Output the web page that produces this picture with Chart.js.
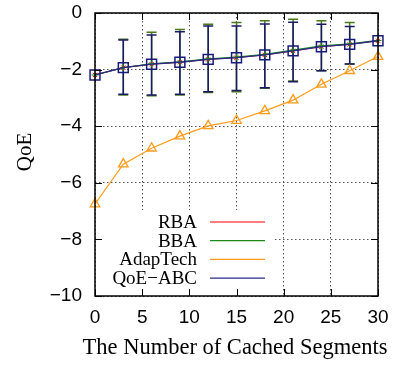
<!DOCTYPE html>
<html>
<head>
<meta charset="utf-8">
<script src="https://cdn.jsdelivr.net/npm/chart.js@4.4.0/dist/chart.umd.min.js"></script>
<style>
  html, body { margin: 0; padding: 0; background: #fff; }
  #wrap { width: 398px; height: 365px; }
</style>
</head>
<body>
<div id="wrap"><canvas id="chart" width="398" height="365"></canvas></div>
<script>
// data
const segments = [0, 3, 6, 9, 12, 15, 18, 21, 24, 27, 30];
const rba      = [-2.19, -1.93, -1.81, -1.74, -1.64, -1.58, -1.48, -1.34, -1.19, -1.11, -0.98];
const bba      = [-2.19, -1.93, -1.80, -1.73, -1.62, -1.56, -1.46, -1.31, -1.16, -1.09, -0.97];
const adaptech = [-6.75, -5.34, -4.78, -4.35, -3.99, -3.80, -3.46, -3.08, -2.52, -2.04, -1.54];
const qoeAbc   = [-2.19, -1.93, -1.81, -1.74, -1.64, -1.58, -1.48, -1.34, -1.19, -1.11, -0.98];

const bbaLow     = [null, -2.90, -2.92, -2.90, -2.81, -2.78, -2.66, -2.40, -2.04, -1.80, null];
const bbaHigh    = [null, -0.93, -0.68, -0.58, -0.40, -0.34, -0.27, -0.22, -0.27, -0.34, null];
const qoeAbcLow  = [null, -2.87, -2.90, -2.87, -2.78, -2.74, -2.64, -2.43, -2.04, -1.80, null];
const qoeAbcHigh = [null, -0.95, -0.78, -0.66, -0.46, -0.46, -0.39, -0.33, -0.40, -0.48, null];

const xTicks = [0, 5, 10, 15, 20, 25, 30];
const yTicks = [0, -2, -4, -6, -8, -10];

const legendItems = [
  { label: 'RBA', color: '#ff0000' },
  { label: 'BBA', color: '#1a8a1a' },
  { label: 'AdapTech', color: '#ff9a1a' },
  { label: 'QoE\u2212ABC', color: '#2a2a8a' }
];

const toPoints = arr => segments.map((s, i) => ({ x: s, y: arr[i] }));

function drawBars(chart, low, high, color) {
  const ctx = chart.ctx;
  const xs = chart.scales.x, ys = chart.scales.y;
  ctx.save();
  ctx.strokeStyle = color;
  ctx.lineWidth = 1.5;
  segments.forEach((s, i) => {
    if (low[i] == null) return;
    const px = xs.getPixelForValue(s);
    const y1 = ys.getPixelForValue(low[i]);
    const y2 = ys.getPixelForValue(high[i]);
    ctx.beginPath();
    ctx.moveTo(px, y1); ctx.lineTo(px, y2);
    ctx.moveTo(px - 5, y1); ctx.lineTo(px + 5, y1);
    ctx.moveTo(px - 5, y2); ctx.lineTo(px + 5, y2);
    ctx.stroke();
  });
  ctx.restore();
}

const decor = {
  id: 'decor',
  beforeDatasetsDraw(chart) {
    const ctx = chart.ctx;
    const a = chart.chartArea;
    // legend box hides the grid
    ctx.save();
    ctx.fillStyle = '#fff';
    ctx.fillRect(a.left + 1, 210, 274 - a.left, a.bottom - 210);
    ctx.restore();
    drawBars(chart, bbaLow, bbaHigh, '#4a7a1a');
    drawBars(chart, qoeAbcLow, qoeAbcHigh, '#1a1a6a');
  },
  afterDraw(chart) {
    const ctx = chart.ctx;
    const a = chart.chartArea;
    const xs = chart.scales.x, ys = chart.scales.y;
    ctx.save();
    // inner ticks
    ctx.strokeStyle = '#000';
    ctx.lineWidth = 1;
    ctx.beginPath();
    xTicks.forEach(v => {
      const px = Math.round(xs.getPixelForValue(v)) + 0.5;
      ctx.moveTo(px, a.bottom); ctx.lineTo(px, a.bottom - 7);
      ctx.moveTo(px, a.top); ctx.lineTo(px, a.top + 7);
    });
    yTicks.forEach(v => {
      const py = Math.round(ys.getPixelForValue(v)) + 0.5;
      ctx.moveTo(a.left, py); ctx.lineTo(a.left + 7, py);
      ctx.moveTo(a.right, py); ctx.lineTo(a.right - 7, py);
    });
    ctx.stroke();
    // frame
    ctx.lineWidth = 1.5;
    ctx.strokeRect(a.left, a.top, a.right - a.left, a.bottom - a.top);

    // legend
    ctx.font = '19px "Liberation Serif"';
    ctx.fillStyle = '#000';
    ctx.textAlign = 'right';
    ctx.textBaseline = 'middle';
    legendItems.forEach((it, i) => {
      const y = 222 + i * 18.7;
      ctx.fillText(it.label, 197, y + 1);
      ctx.strokeStyle = it.color;
      ctx.lineWidth = 1.2;
      ctx.beginPath();
      ctx.moveTo(210, y); ctx.lineTo(265, y);
      ctx.stroke();
    });

    // axis titles
    ctx.fillStyle = '#000';
    ctx.font = '22.5px "Liberation Serif"';
    ctx.textAlign = 'center';
    ctx.fillText('The Number of Cached Segments', 235, 348);
    ctx.font = '21px "Liberation Serif"';
    ctx.translate(25, 152);
    ctx.rotate(-Math.PI / 2);
    ctx.fillText('QoE', 0, 0);
    ctx.restore();
  }
};

new Chart(document.getElementById('chart'), {
  type: 'line',
  data: {
    datasets: [
      { label: 'RBA', data: toPoints(rba), order: 4, clip: false, borderColor: '#ff0000', borderWidth: 1,
        pointStyle: 'crossRot', pointRadius: 3, pointBorderColor: '#ff0000', pointBorderWidth: 1 },
      { label: 'BBA', data: toPoints(bba), order: 3, clip: false, borderColor: '#1a8a1a', borderWidth: 1.2,
        pointStyle: 'cross', pointRadius: 3.5, pointBorderColor: '#1a8a1a', pointBorderWidth: 1 },
      { label: 'AdapTech', data: toPoints(adaptech), order: 2, clip: false, borderColor: '#ff9a1a', borderWidth: 1.2,
        pointStyle: 'triangle', pointRadius: 5.5, pointBackgroundColor: 'rgba(0,0,0,0)',
        pointBorderColor: '#ff9a1a', pointBorderWidth: 1.3 },
      { label: 'QoE-ABC', data: toPoints(qoeAbc), order: 1, clip: false, borderColor: '#2a2a8a', borderWidth: 1.3,
        pointStyle: 'rect', pointRadius: 7, pointBackgroundColor: 'rgba(0,0,0,0)',
        pointBorderColor: '#1a1a7a', pointBorderWidth: 1.5 }
    ]
  },
  options: {
    responsive: false,
    animation: false,
    layout: { padding: { left: 0, right: 20, top: 13, bottom: 0 } },
    plugins: { legend: { display: false }, tooltip: { enabled: false } },
    elements: { line: { tension: 0 } },
    scales: {
      x: {
        type: 'linear', min: 0, max: 30,
        afterFit: s => { s.height = 69; s.paddingLeft = 0; s.paddingRight = 0; },
        afterBuildTicks: s => { s.ticks = xTicks.map(v => ({ value: v })); },
        ticks: { color: '#000', padding: 10, maxRotation: 0, font: { family: 'Liberation Sans', size: 19 } },
        grid: { color: '#555', lineWidth: 1, drawTicks: false },
        border: { display: false, dash: [1.5, 2.5] }
      },
      y: {
        min: -10, max: 0,
        afterFit: s => { s.width = 95; s.paddingTop = 0; s.paddingBottom = 0; },
        afterBuildTicks: s => { s.ticks = yTicks.map(v => ({ value: v })); },
        ticks: { color: '#000', padding: 13, font: { family: 'Liberation Sans', size: 19 },
          callback: v => String(v).replace('-', '\u2212') },
        grid: { color: '#555', lineWidth: 1, drawTicks: false },
        border: { display: false, dash: [1.5, 2.5] }
      }
    }
  },
  plugins: [decor]
});
</script>
</body>
</html>
